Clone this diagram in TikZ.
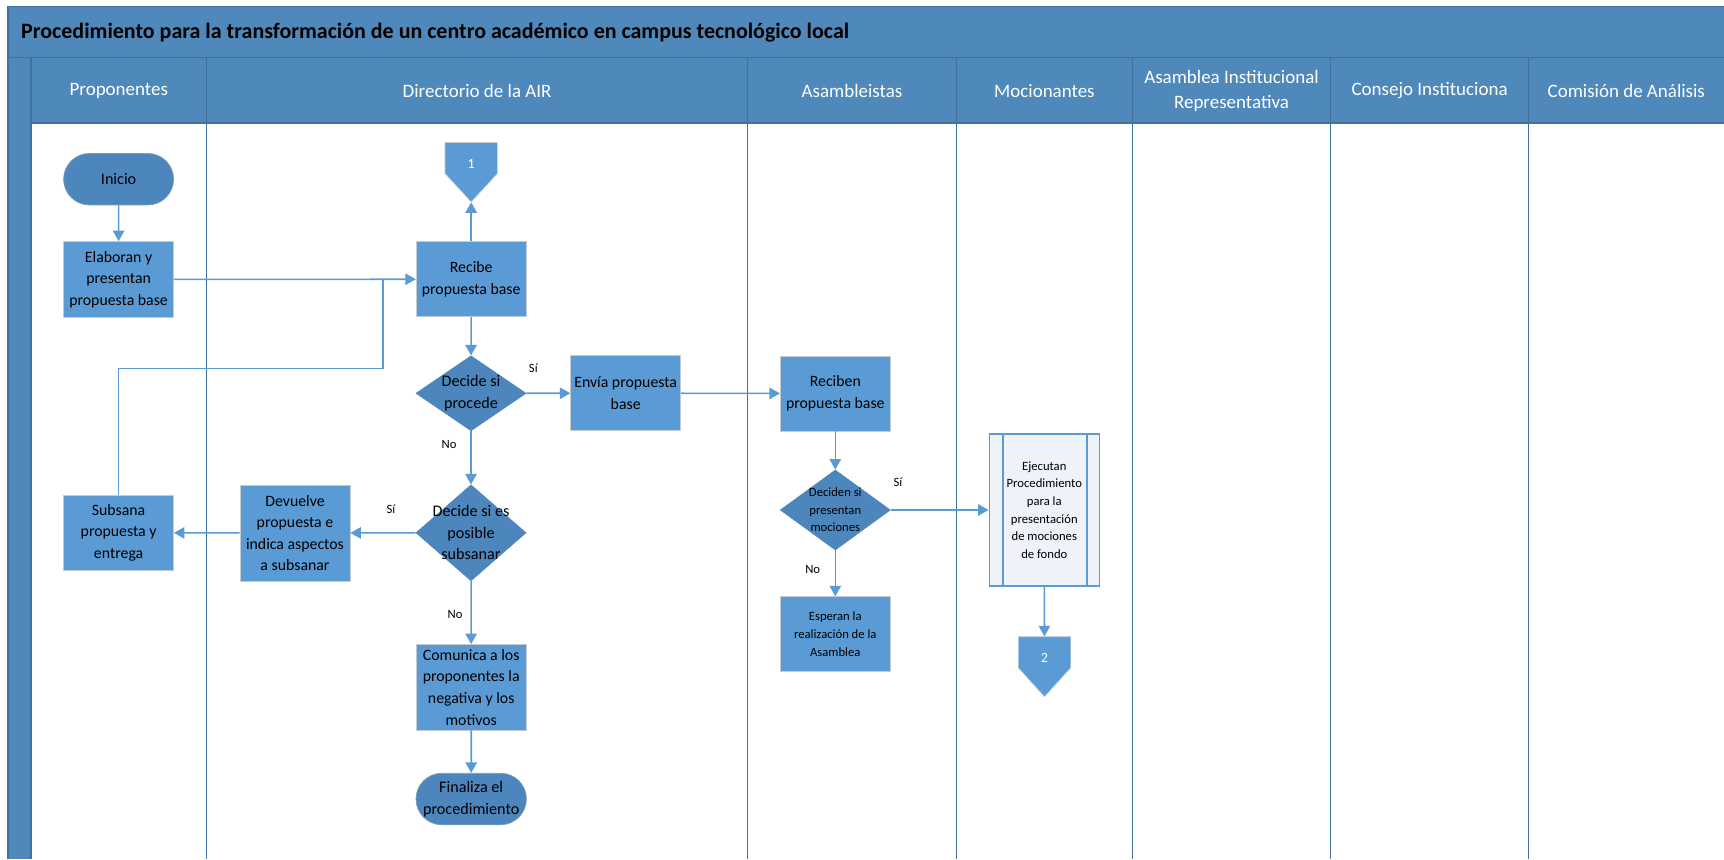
\documentclass[tikz,border=0pt]{standalone}
\usepackage{fontspec}
\setmainfont{Carlito}
\usetikzlibrary{shapes.geometric, shapes.misc, arrows.meta}

\definecolor{boxblue}{HTML}{5B9BD5}
\definecolor{darkblue}{HTML}{4D86BD}
\definecolor{lanefill}{HTML}{4F88BB}
\definecolor{laneline}{HTML}{41719C}
\definecolor{boxedge}{HTML}{C3CBD3}
\definecolor{subfill}{HTML}{EEF3FA}

\tikzstyle{normal} = [rectangle, minimum width=2.2cm, minimum height=1.5cm, align=center, inner sep=0pt, draw=boxedge, fill=boxblue, font=\fontsize{9}{12.3}\selectfont]
\tikzstyle{small} = [normal, font=\fontsize{7.2}{10}\selectfont]
\tikzstyle{terminal} = [rounded rectangle, minimum width=2.2cm, minimum height=1.03cm, align=center, inner sep=0pt, draw=laneline!70, fill=darkblue, font=\fontsize{9.2}{12.3}\selectfont]
\tikzstyle{decision} = [diamond, minimum width=2.2cm, minimum height=1.5cm, inner sep=0pt, draw=darkblue, fill=darkblue]
\tikzstyle{dtext} = [align=center, font=\fontsize{9.2}{12.3}\selectfont]
\tikzstyle{dsmall} = [align=center, font=\fontsize{7.2}{10}\selectfont]
\tikzstyle{subproc} = [rectangle, minimum width=2.2cm, minimum height=3.04cm, align=center, inner sep=0pt, draw=boxblue, line width=0.8pt, fill=subfill, font=\fontsize{7.2}{10}\selectfont,
  path picture={\draw[boxblue, line width=0.8pt] ([xshift=0.27cm]path picture bounding box.north west) -- ([xshift=0.27cm]path picture bounding box.south west);
                \draw[boxblue, line width=0.8pt] ([xshift=-0.25cm]path picture bounding box.north east) -- ([xshift=-0.25cm]path picture bounding box.south east);}]
\tikzstyle{offpage} = [rectangle, minimum width=1.05cm, minimum height=1.19cm, inner sep=0pt, text=white, font=\fontsize{8}{9}\selectfont,
  path picture={\filldraw[fill=boxblue, draw=boxedge] (path picture bounding box.north west) -- (path picture bounding box.north east) -- ([yshift=-0.62cm]path picture bounding box.north east) -- (path picture bounding box.south) -- ([yshift=-0.62cm]path picture bounding box.north west) -- cycle;}]
\tikzstyle{lbl} = [inner sep=0pt, font=\fontsize{7.2}{9}\selectfont]
\tikzstyle{head} = [text=white, align=center, font=\fontsize{10.8}{13.9}\selectfont]
\tikzstyle{arrow} = [line width=0.9pt, boxblue, -{Triangle[width=6.5pt,length=6pt]}]
\tikzstyle{line} = [line width=0.9pt, boxblue]

\begin{document}
\begin{tikzpicture}[x=0.02cm, y=-0.02cm]
\useasboundingbox (0,0) rectangle (1724,859);

%% LANES

\fill[lanefill] (8,6.7) rectangle (1724,57.3);
\fill[lanefill] (8,57.3) rectangle (1724,123.3);
\fill[lanefill] (8,123.3) rectangle (31,859);
\draw[laneline, line width=0.8pt] (8,859) -- (8,6.7) -- (1724,6.7);
\draw[laneline, line width=0.8pt] (8,57.3) -- (1724,57.3);
\draw[laneline, line width=1pt] (31,123.3) -- (1724,123.3);
\node (title) [anchor=west, font=\bfseries\fontsize{12.5}{14}\selectfont] at (15,33) {Procedimiento para la transformación de un centro académico en campus tecnológico local};

\foreach \xa/\xb/\name [count=\i] in {31/206.6/Proponentes, 206.6/747.6/Directorio de la AIR, 747.6/956.4/Asambleistas, 956.4/1132.4/Mocionantes, 1132.4/1330.6/{Asamblea Institucional\\Representativa}, 1330.6/1528.6/Consejo Instituciona, 1528.6/1724/Comisión de Análisis}{
  \draw[laneline, line width=1pt] (\xa,57.3) -- (\xa,859);
  \node (lane\i) [head] at ({(\xa+\xb)/2},91) {\name};
}

%% NODES

\node (inicio) [terminal] at (118.6,179.2) {Inicio};
\node (elab) [normal, minimum height=1.52cm] at (118.6,279.5) {Elaboran y\\presentan\\propuesta base};
\node (c1) [offpage] at (471.2,172.2) {\raisebox{0.34cm}{1}};
\node (recibe) [normal] at (471.2,279.2) {Recibe\\propuesta base};
\node (dec1) [decision, label={[dtext]center:Decide si\\procede}] at (471,393.3) {};
\node (envia) [normal] at (625.7,393.2) {Envía propuesta\\base};
\node (reciben) [normal] at (835.3,393.5) {Reciben\\propuesta base};
\node (dec2) [decision, minimum height=1.92cm, label={[dtext]center:Decide si es\\posible\\subsanar}] at (471,532.8) {};
\node (devuelve) [normal, minimum height=1.92cm] at (295,533) {Devuelve\\propuesta e\\indica aspectos\\a subsanar};
\node (subsana) [normal, minimum height=1.51cm] at (118.6,532.8) {Subsana\\propuesta y\\entrega};
\node (comunica) [normal, minimum height=1.71cm] at (471.2,687.2) {Comunica a los\\proponentes la\\negativa y los\\motivos};
\node (finaliza) [terminal] at (471.2,799) {Finaliza el\\procedimiento};
\node (deciden) [decision, minimum height=1.6cm, label={[dsmall]center:Deciden si\\presentan\\mociones}] at (835.3,510) {};
\node (esperan) [small] at (835.3,634.2) {Esperan la\\realización de la\\Asamblea};
\node (ejecutan) [subproc] at (1044.3,510) {Ejecutan\\Procedimiento\\para la\\presentación\\de mociones\\de fondo};
\node (c2) [offpage, minimum height=1.2cm] at (1044.5,666.7) {\raisebox{0.34cm}{2}};

\node (si1) [lbl] at (533.3,368.3) {Sí};
\node (no1) [lbl] at (449,444.3) {No};
\node (si2) [lbl] at (391,509) {Sí};
\node (no2) [lbl] at (455,614) {No};
\node (si3) [lbl] at (898,482) {Sí};
\node (no3) [lbl] at (812.7,569.3) {No};

\coordinate (loop) at (383.2,368.3);
\coordinate (merge) at (loop |- recibe.west);

%% ARROWS

\draw [arrow] (inicio) -- (elab);
\draw [arrow] (elab) -- (recibe);
\draw [arrow] (recibe) -- (c1.south);
\draw [arrow] (recibe) -- (dec1);
\draw [arrow] (dec1) -- (envia);
\draw [arrow] (dec1) -- (dec2);
\draw [arrow] (envia) -- (reciben);
\draw [arrow] (dec2) -- (devuelve);
\draw [arrow] (devuelve) -- (subsana);
\draw [line] (subsana.north) |- (loop) -- (merge);
\draw [arrow] (dec2) -- (comunica);
\draw [arrow] (comunica) -- (finaliza);
\draw [arrow] (reciben) -- (deciden);
\draw [arrow] (deciden) -- (ejecutan);
\draw [arrow] (deciden) -- (esperan);
\draw [arrow] (ejecutan) -- (c2);

\end{tikzpicture}
\end{document}
